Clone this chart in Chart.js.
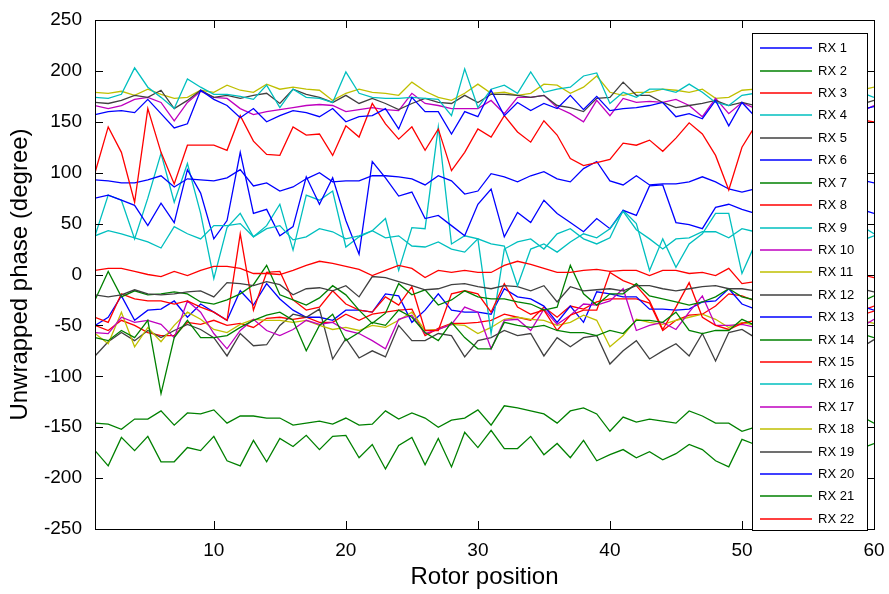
<!DOCTYPE html>
<html>
<head>
<meta charset="utf-8">
<script src="https://cdn.jsdelivr.net/npm/chart.js@4.4.1/dist/chart.umd.min.js"></script>
<style>
  html, body { margin: 0; padding: 0; background: #fff; }
  #wrap { width: 889px; height: 594px; }
</style>
</head>
<body>
<div id="wrap"><canvas id="phaseChart" width="889" height="594"></canvas></div>
<script>
// Unwrapped phase per receiver vs rotor position (MATLAB style plot)
const rotorPos = Array.from({ length: 60 }, (_, i) => i + 1);
const xTicks = [10, 20, 30, 40, 50, 60];
const yTicks = [-250, -200, -150, -100, -50, 0, 50, 100, 150, 200, 250];

const rx1 = [157,160,161,159,172,158,144,148,181,172,166,154,163,150,156,161,159,155,163,150,155,156,163,143,174,160,160,138,160,155,181,156,169,161,168,163,176,162,175,161,163,164,166,169,155,158,153,171,146,169,155,160,166,158,171,163,157,168,162,165];
const rx2 = [-146,-147,-152,-142,-142,-134,-148,-136,-137,-133,-146,-139,-139,-141,-141,-148,-146,-144,-147,-141,-148,-147,-134,-142,-136,-141,-150,-143,-141,-133,-148,-129,-131,-134,-137,-146,-134,-131,-137,-154,-140,-145,-142,-144,-146,-134,-139,-146,-146,-154,-150,-143,-138,-147,-141,-136,-149,-144,-139,-146];
const rx3 = [100,145,120,71,163,120,89,127,127,127,122,156,131,118,117,145,137,138,117,146,135,168,148,133,145,122,143,102,120,143,135,156,140,130,151,137,114,107,110,113,129,127,132,121,134,149,138,117,83,125,146,138,152,131,144,128,147,139,152,150];
const rx4 = [174,173,177,203,184,174,163,192,184,177,177,175,172,186,164,182,174,173,169,199,178,174,173,173,174,173,172,156,202,164,182,186,178,199,179,182,184,195,198,168,179,174,182,182,179,187,179,169,166,176,178,172,181,176,169,184,175,171,179,174];
const rx5 = [169,168,171,176,174,181,163,171,181,174,176,173,176,178,168,182,177,174,169,176,168,173,168,162,168,173,169,168,176,169,177,177,176,174,176,166,164,160,173,174,189,176,176,169,164,166,168,171,166,169,166,172,165,170,176,163,169,174,167,171];
const rx6 = [93,92,90,90,93,97,86,94,93,92,95,103,87,90,82,86,94,100,91,92,92,97,97,96,94,88,97,92,79,82,99,96,91,97,101,94,91,104,111,92,88,97,88,89,89,91,96,91,84,81,84,88,92,86,90,95,89,87,93,90];
const rx7 = [-62,-65,-55,-62,-45,-117,-62,-45,-62,-62,-60,-52,-45,-40,-37,-45,-75,-50,-39,-65,-57,-47,-50,-35,-42,-57,-65,-47,-62,-73,-73,-47,-50,-52,-50,-55,-57,-57,-60,-55,-58,-45,-45,-47,-37,-55,-58,-55,-55,-44,-50,-56,-48,-53,-60,-51,-46,-55,-58,-62];
const rx8 = [4,6,6,3,0,-2,3,-1,4,8,8,6,1,1,0,4,9,13,11,8,5,-1,4,9,6,-3,4,2,4,2,2,9,13,10,6,2,2,4,5,3,4,4,-1,4,4,1,2,-1,6,-9,-7,-2,3,6,1,-4,2,5,0,-3];
const rx9 = [38,43,40,36,32,26,47,40,35,48,48,50,37,45,48,34,37,45,42,35,38,43,36,38,28,27,32,25,22,35,30,28,-11,25,30,22,32,40,36,45,62,44,35,25,35,36,42,42,36,45,42,38,30,44,35,27,40,46,33,38];
const rx10 = [166,163,166,172,174,169,151,169,180,174,173,163,157,160,162,164,166,167,166,160,162,164,162,161,178,168,166,163,163,163,171,158,174,174,176,164,158,150,171,156,173,169,170,169,172,166,155,173,158,169,163,168,161,170,165,158,167,172,160,166];
const rx11 = [179,178,180,176,182,177,173,174,181,179,186,181,179,187,182,184,182,181,171,178,182,179,178,176,189,180,174,171,178,187,178,179,176,178,187,186,178,184,195,179,176,179,179,182,181,179,182,173,174,181,182,178,185,180,176,183,179,186,181,184];
const rx12 = [-20,-22,-20,-15,-19,-20,-19,-17,-16,-22,-8,-9,-11,-7,-10,-20,-14,-13,-16,-11,-22,-2,-3,-7,-11,-15,-14,-10,-9,-12,-14,-11,-12,-16,-11,-27,-12,-16,-15,-14,-16,-11,-11,-14,-16,-14,-12,-11,-14,-14,-16,-12,-18,-13,-10,-15,-19,-12,-14,-17];
const rx13 = [75,78,73,68,48,70,51,103,80,35,53,120,60,64,38,47,96,69,95,53,20,111,95,77,81,55,58,48,38,69,84,37,61,51,73,60,51,42,55,45,63,58,87,88,51,49,45,66,69,64,60,55,68,49,62,57,70,52,64,60];
const rx14 = [-25,3,-22,-16,-20,-19,-17,-19,-27,-29,-25,-19,-10,9,-20,-25,-30,-23,-11,-20,-35,-48,-38,-9,-20,-15,-30,-25,-16,-22,-24,-24,-27,-29,-35,-32,9,-19,-30,-19,-19,-9,-21,-24,-27,-30,-27,-22,-14,-22,-25,-20,-28,-17,-24,-31,-19,-23,-27,-21];
const rx15 = [-42,-47,-19,-24,-26,-26,-29,-26,-32,-37,-45,40,-35,2,3,-25,-35,-32,-16,-29,-35,-37,-22,-30,-12,-55,-55,-19,-16,-19,-37,-9,-32,-39,-35,-55,-40,-35,-35,2,-6,-11,-26,-54,-32,-8,-42,-50,-54,-48,-45,-38,-44,-30,-47,-41,-35,-49,-40,-36];
const rx16 = [38,78,73,35,75,119,71,109,60,-4,46,60,37,48,69,24,78,73,82,27,37,43,55,4,46,45,145,30,38,35,-58,25,32,35,25,40,45,35,30,36,63,50,4,35,7,30,40,60,60,1,30,45,38,52,30,41,57,36,48,40];
const rx17 = [-57,-58,-42,-47,-45,-49,-62,-26,-37,-58,-73,-55,-44,-55,-60,-54,-45,-49,-47,-55,-58,-65,-73,-44,-40,-58,-54,-49,-32,-37,-73,-45,-44,-55,-34,-49,-40,-29,-30,-26,-14,-55,-50,-47,-54,-37,-21,-50,-50,-49,-52,-45,-38,-50,-43,-55,-41,-47,-52,-44];
const rx18 = [-58,-68,-37,-71,-52,-66,-50,-37,-44,-54,-57,-49,-44,-45,-45,-47,-45,-50,-54,-52,-55,-50,-52,-45,-37,-55,-54,-49,-50,-58,-52,-44,-42,-44,-45,-50,-47,-40,-45,-71,-60,-44,-47,-49,-45,-42,-39,-44,-52,-47,-50,-43,-48,-55,-46,-41,-50,-53,-45,-48];
const rx19 = [-80,-66,-57,-65,-55,-62,-55,-49,-54,-62,-80,-58,-70,-69,-50,-39,-42,-34,-83,-63,-82,-75,-81,-50,-65,-65,-58,-60,-81,-65,-62,-55,-60,-58,-80,-62,-71,-62,-60,-88,-75,-65,-83,-75,-68,-80,-58,-85,-57,-54,-62,-70,-58,-66,-75,-61,-68,-55,-72,-64];
const rx20 = [-50,-42,-21,-45,-35,-34,-26,-42,-29,-37,-45,-16,-30,-9,-24,-35,-42,-42,-45,-35,-35,-37,-19,-21,-47,-35,-19,-35,-37,-37,-39,-14,-22,-24,-31,-47,-31,-47,-17,-19,-22,-22,-34,-34,-35,-34,-27,-26,-14,-29,-34,-30,-38,-27,-33,-40,-29,-36,-31,-35];
const rx21 = [-173,-188,-160,-173,-159,-184,-184,-170,-173,-159,-183,-188,-163,-184,-161,-169,-158,-172,-159,-158,-180,-167,-191,-168,-160,-187,-161,-189,-155,-170,-153,-171,-171,-159,-177,-166,-180,-163,-183,-177,-172,-180,-174,-182,-176,-167,-172,-183,-189,-162,-167,-175,-160,-182,-169,-178,-164,-186,-171,-166];
const rx22 = [-50,-55,-45,-50,-57,-60,-60,-47,-49,-45,-50,-48,-52,-43,-42,-44,-42,-47,-47,-39,-45,-39,-37,-35,-34,-60,-53,-48,-48,-47,-45,-39,-42,-45,-32,-42,-31,-34,-27,-24,-24,-24,-28,-55,-45,-40,-39,-31,-19,-21,-26,-33,-29,-37,-30,-25,-34,-28,-36,-31];

const seriesNames = ['RX 1','RX 2','RX 3','RX 4','RX 5','RX 6','RX 7','RX 8','RX 9','RX 10','RX 11',
  'RX 12','RX 13','RX 14','RX 15','RX 16','RX 17','RX 18','RX 19','RX 20','RX 21','RX 22'];
const seriesData = [rx1,rx2,rx3,rx4,rx5,rx6,rx7,rx8,rx9,rx10,rx11,rx12,rx13,rx14,rx15,rx16,rx17,rx18,rx19,rx20,rx21,rx22];

// MATLAB-ish line colours, in legend order
const BLUE = '#0000ff', GREEN = '#008000', RED = '#ff0000', CYAN = '#00bfbf',
      MAG = '#bf00bf', YEL = '#bfbf00', GRAY = '#404040';
const seriesColors = [BLUE, GREEN, RED, CYAN, GRAY, BLUE, GREEN, RED, CYAN, MAG, YEL,
  GRAY, BLUE, GREEN, RED, CYAN, MAG, YEL, GRAY, BLUE, GREEN, RED];

const FONT = '"Liberation Sans", Arial, Helvetica, sans-serif';

const datasets = seriesData.map((vals, k) => ({
  label: seriesNames[k],
  data: vals.map((v, i) => ({ x: rotorPos[i], y: v })),
  borderColor: seriesColors[k],
  backgroundColor: seriesColors[k],
  borderWidth: 1.3,
  pointRadius: 0,
  tension: 0,
  fill: false
}));

// axes box + inward ticks on all four sides, like MATLAB
const boxPlugin = {
  id: 'matlabBox',
  afterDatasetsDraw(chart) {
    const { ctx, chartArea: a, scales } = chart;
    ctx.save();
    ctx.strokeStyle = '#000';
    ctx.lineWidth = 1;
    const tl = 8;
    ctx.beginPath();
    xTicks.forEach(v => {
      const px = Math.round(scales.x.getPixelForValue(v)) + 0.5;
      ctx.moveTo(px, a.bottom); ctx.lineTo(px, a.bottom - tl);
      ctx.moveTo(px, a.top); ctx.lineTo(px, a.top + tl);
    });
    yTicks.forEach(v => {
      const py = Math.round(scales.y.getPixelForValue(v)) + 0.5;
      ctx.moveTo(a.left, py); ctx.lineTo(a.left + tl, py);
      ctx.moveTo(a.right, py); ctx.lineTo(a.right - tl, py);
    });
    ctx.stroke();
    ctx.strokeRect(Math.round(a.left) + 0.5, Math.round(a.top) + 0.5,
      Math.round(a.right - a.left), Math.round(a.bottom - a.top));

    // legend box
    const lx = 752, ly = 33, lw = 115, lh = 497;
    ctx.fillStyle = '#fff';
    ctx.fillRect(lx, ly, lw, lh);
    ctx.strokeStyle = '#000';
    ctx.strokeRect(lx + 0.5, ly + 0.5, lw, lh);
    ctx.font = '13px ' + FONT;
    ctx.textBaseline = 'middle';
    ctx.textAlign = 'left';
    ctx.lineWidth = 1.3;
    chart.data.datasets.forEach((ds, k) => {
      const y = Math.round(ly + 15.3 + k * 22.4);
      ctx.beginPath();
      ctx.strokeStyle = ds.borderColor;
      ctx.moveTo(760, y); ctx.lineTo(812, y);
      ctx.stroke();
      ctx.fillStyle = '#000';
      ctx.fillText(ds.label, 818, y);
    });
    ctx.restore();
  }
};

new Chart(document.getElementById('phaseChart'), {
  type: 'line',
  data: { datasets },
  options: {
    responsive: false,
    animation: false,
    layout: { padding: { top: 20, right: 15, bottom: 0, left: 0 } },
    plugins: {
      legend: { display: false },
      tooltip: { enabled: false },
      title: { display: false }
    },
    scales: {
      x: {
        type: 'linear',
        min: 1,
        max: 60,
        afterBuildTicks: s => { s.ticks = xTicks.map(v => ({ value: v })); },
        afterFit: s => { s.height = 65; },
        grid: { display: false },
        border: { display: false },
        ticks: { color: '#000', padding: 2, maxRotation: 0, font: { family: FONT, size: 19 } },
        title: { display: true, text: 'Rotor position', color: '#000',
          padding: { top: 0, bottom: 2 }, font: { family: FONT, size: 24 } }
      },
      y: {
        min: -250,
        max: 250,
        afterBuildTicks: s => { s.ticks = yTicks.map(v => ({ value: v })); },
        afterFit: s => { s.width = 95; },
        grid: { display: false },
        border: { display: false },
        ticks: { color: '#000', padding: 5, font: { family: FONT, size: 19 } },
        title: { display: true, text: 'Unwrapped phase (degree)', color: '#000',
          padding: { top: 6, bottom: 0 }, font: { family: FONT, size: 24 } }
      }
    }
  },
  plugins: [boxPlugin]
});
</script>
</body>
</html>
